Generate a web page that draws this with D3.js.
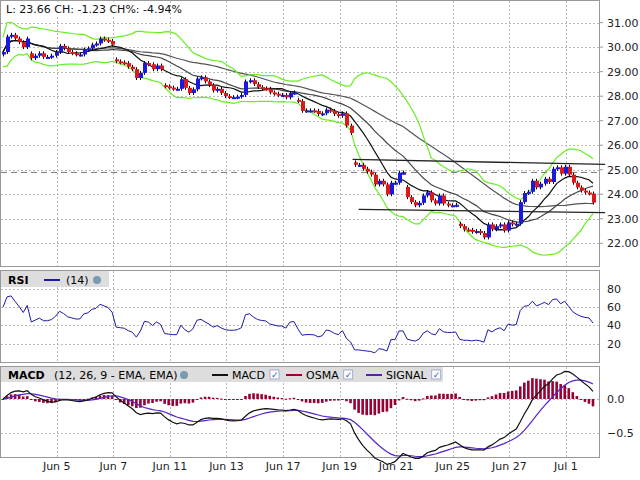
<!DOCTYPE html>
<html><head><meta charset="utf-8">
<script src="https://cdn.jsdelivr.net/npm/d3@7"></script>
<style>body{margin:0;background:#fff;font-family:"DejaVu Sans",Verdana,sans-serif;}</style>
</head><body><div id="vis"></div>
<script>
// closes per hourly bar
var closes = [29.8,30.43,30.5,30.35,30.2,30.0,30.35,29.55,29.65,29.75,29.6,29.6,29.65,29.8,30.05,29.95,29.8,29.75,29.7,29.7,29.9,29.95,30.1,30.15,30.35,30.3,30.25,30.1,
  29.42,29.38,29.35,29.2,29.1,28.74,28.95,29.35,29.3,29.1,29.25,29.1,
  28.4,28.35,28.3,28.3,28.69,28.34,28.13,28.28,28.72,28.77,28.6,28.45,28.23,28.3,28.13,28.0,27.96,27.96,27.98,28.05,28.6,28.65,28.49,28.37,28.32,28.3,28.15,28.1,28.05,
  28.05,27.95,28.13,28.15,
  27.8,27.4,27.42,27.42,27.4,27.27,27.3,27.45,27.4,27.27,27.2,27.3,26.8,26.5,
  25.2,25.2,25.04,24.92,24.8,24.4,24.55,24.4,24.0,24.47,24.47,24.88,24.88,
  23.88,23.68,23.55,23.65,23.95,24.08,23.75,23.62,23.95,23.62,23.55,23.55,23.57,
  22.7,22.56,22.55,22.47,22.5,22.42,22.24,22.77,22.57,22.7,22.77,22.52,22.85,22.77,22.8,23.68,24.05,24.1,24.55,24.28,24.43,24.63,24.5,25.04,25.1,24.84,25.12,24.8,24.47,24.28,24.15,24.07,24.03,23.66];
// opens of bars that start a new session (gap), by bar index
var sessionOpens = {0: 29.7, 7: 29.75, 28: 29.5, 40: 28.45, 73: 27.85, 87: 25.3, 100: 24.3, 113: 22.8};
var wick = 0.08;
var priceTicks = [22,23,24,25,26,27,28,29,30,31];
var rsiTicks = [20,40,60,80];
var macdTicks = [0, -0.5];
var dateLabels = ["Jun 5","Jun 7","Jun 11","Jun 13","Jun 17","Jun 19","Jun 21","Jun 25","Jun 27","Jul 1"];
var dateBars = [13.3,27.3,41.3,55.3,69.3,83.3,97.3,111.3,125.3,139.3];
var prevClose = 24.89;
var resistance = [[86.5, 25.42], [149, 25.22]];
var support = [[88, 23.38], [149, 23.25]];

var W = 640, H = 480, plotR = 599;
var svg = d3.select("#vis").append("svg").attr("width", W).attr("height", H);

var opens = closes.map(function(c, i) { return sessionOpens[i] !== undefined ? sessionOpens[i] : closes[i-1]; });

var x = d3.scaleLinear().domain([0, closes.length - 1]).range([3, 593]);
var yP = d3.scaleLinear().domain([22, 31]).range([243.3, 22.6]);
var yR = d3.scaleLinear().domain([0, 100]).range([362, 270.5]);
var yM = d3.scaleLinear().domain([-0.5, 0]).range([433, 399]);

// indicators
function sma(n) { return closes.map(function(c, i) { return d3.mean(closes.slice(Math.max(0, i-n+1), i+1)); }); }
function ema(arr, n) { var k = 2/(n+1), out = []; arr.forEach(function(v, i) { out.push(i == 0 ? v : v*k + out[i-1]*(1-k)); }); return out; }
var mid = sma(20);
var sd = closes.map(function(c, i) { var s = closes.slice(Math.max(0, i-19), i+1); return s.length > 1 ? d3.deviation(s) : 0.3; });
var upper = mid.map(function(m, i) { return m + 2*sd[i]; });
var lower = mid.map(function(m, i) { return m - 2*sd[i]; });
var ma10 = sma(10), ma40 = sma(40);
var rsi = [], ag = 0, al = 0;
closes.forEach(function(c, i) {
  if (i == 0) { ag = 0.05; al = 0.04; rsi.push(60); return; }
  var d = c - closes[i-1];
  ag = (ag*13 + Math.max(d, 0))/14; al = (al*13 + Math.max(-d, 0))/14;
  rsi.push(100 - 100/(1 + ag/al));
});
var e12 = ema(closes, 12), e26 = ema(closes, 26);
var macd = e12.map(function(v, i) { return v - e26[i]; });
var signal = ema(macd, 9);
var osma = macd.map(function(v, i) { return v - signal[i]; });

function panel(top, bottom) {
  svg.append("rect").attr("x", 0.5).attr("y", top + 0.5).attr("width", plotR).attr("height", bottom - top)
    .attr("fill", "#fff").attr("stroke", "#999");
}
function hgrid(vals, scale) {
  svg.append("g").selectAll("line").data(vals).enter().append("line")
    .attr("x1", 1).attr("x2", plotR).attr("y1", function(d) { return Math.round(scale(d)) + 0.5; })
    .attr("y2", function(d) { return Math.round(scale(d)) + 0.5; })
    .attr("stroke", "#bbb").attr("stroke-dasharray", "2,2");
}
function vgrid(top, bottom) {
  svg.append("g").selectAll("line").data(dateBars).enter().append("line")
    .attr("x1", function(d) { return Math.round(x(d)) + 0.5; }).attr("x2", function(d) { return Math.round(x(d)) + 0.5; })
    .attr("y1", top).attr("y2", bottom).attr("stroke", "#bbb").attr("stroke-dasharray", "2,2");
}
function rlabels(vals, scale, fmt) {
  svg.append("g").selectAll("text").data(vals).enter().append("text")
    .attr("x", 607).attr("y", function(d) { return scale(d) + 4; })
    .attr("font-size", 11).attr("fill", "#222").text(fmt);
}

// price panel
panel(0, 266);
hgrid(priceTicks, yP); vgrid(1, 266);
rlabels(priceTicks, yP, d3.format(".2f"));
svg.selectAll(".tickm").data(priceTicks).enter().append("line")
  .attr("x1", plotR).attr("x2", plotR + 4).attr("y1", function(d) { return yP(d); }).attr("y2", function(d) { return yP(d); }).attr("stroke", "#999");

var line = function(arr, sc) { return d3.line().x(function(d, i) { return x(i); }).y(function(d) { return sc(d); })(arr); };
svg.append("path").attr("d", line(ma40, yP)).attr("fill", "none").attr("stroke", "#555").attr("stroke-width", 1.2);
svg.append("path").attr("d", line(mid, yP)).attr("fill", "none").attr("stroke", "#444").attr("stroke-width", 1.2);
svg.append("path").attr("d", line(ma10, yP)).attr("fill", "none").attr("stroke", "#111").attr("stroke-width", 1.2);
svg.append("path").attr("d", line(upper, yP)).attr("fill", "none").attr("stroke", "#66ee22").attr("stroke-width", 1.2);
svg.append("path").attr("d", line(lower, yP)).attr("fill", "none").attr("stroke", "#66ee22").attr("stroke-width", 1.2);

svg.append("line").attr("x1", 1).attr("x2", plotR).attr("y1", yP(prevClose)).attr("y2", yP(prevClose))
  .attr("stroke", "#777").attr("stroke-dasharray", "6,4");
[resistance, support].forEach(function(t) {
  svg.append("line").attr("x1", x(t[0][0])).attr("y1", yP(t[0][1])).attr("x2", x(t[1][0])).attr("y2", yP(t[1][1]))
    .attr("stroke", "#222").attr("stroke-width", 1.3);
});

var candle = svg.append("g").selectAll("g").data(closes).enter().append("g");
candle.append("line")
  .attr("x1", function(d, i) { return Math.round(x(i)) + 0.5; }).attr("x2", function(d, i) { return Math.round(x(i)) + 0.5; })
  .attr("y1", function(d, i) { return yP(Math.max(d, opens[i]) + wick); })
  .attr("y2", function(d, i) { return yP(Math.min(d, opens[i]) - wick); })
  .attr("stroke", "#000");
candle.append("rect")
  .attr("x", function(d, i) { return Math.round(x(i)) - 1; }).attr("width", 4)
  .attr("y", function(d, i) { return yP(Math.max(d, opens[i])); })
  .attr("height", function(d, i) { return Math.max(2, yP(Math.min(d, opens[i])) - yP(Math.max(d, opens[i]))); })
  .attr("fill", function(d, i) { return d >= opens[i] ? "#1a1add" : "#dd1a1a"; });

svg.append("rect").attr("x", 2).attr("y", 2).attr("width", 150).attr("height", 14).attr("fill", "#fff");
svg.append("text").attr("x", 6).attr("y", 13).attr("font-size", 11).attr("fill", "#111")
  .text("L: 23.66 CH: -1.23 CH%: -4.94%");

// RSI panel
panel(270, 362);
hgrid(rsiTicks, yR); vgrid(271, 362);
rlabels(rsiTicks, yR, function(d) { return d; });
svg.append("path").attr("d", line(rsi, yR)).attr("fill", "none").attr("stroke", "#1a1aa8").attr("stroke-width", 1);
svg.append("rect").attr("x", 1).attr("y", 271).attr("width", 108).attr("height", 16).attr("fill", "#ddd");
svg.append("text").attr("x", 8).attr("y", 284).attr("font-size", 11).attr("font-weight", "bold").text("RSI");
svg.append("line").attr("x1", 44).attr("x2", 60).attr("y1", 280).attr("y2", 280).attr("stroke", "#1a1aa8").attr("stroke-width", 2);
svg.append("text").attr("x", 66).attr("y", 284).attr("font-size", 11).text("(14)");
svg.append("circle").attr("cx", 97).attr("cy", 280).attr("r", 4).attr("fill", "#7a9ab0");

// MACD panel
panel(366, 457);
hgrid(macdTicks, yM); vgrid(367, 457);
rlabels(macdTicks, yM, d3.format(".1f"));
var bw = 2.6;
svg.append("g").selectAll("rect").data(osma).enter().append("rect")
  .attr("x", function(d, i) { return x(i) - bw/2; }).attr("width", bw)
  .attr("y", function(d) { return Math.min(yM(d), yM(0)); })
  .attr("height", function(d) { return Math.max(1, Math.abs(yM(d) - yM(0))); })
  .attr("fill", "#990033");
svg.append("path").attr("d", line(signal, yM)).attr("fill", "none").attr("stroke", "#5522cc").attr("stroke-width", 1.2);
svg.append("path").attr("d", line(macd, yM)).attr("fill", "none").attr("stroke", "#111").attr("stroke-width", 1.2);
svg.append("rect").attr("x", 1).attr("y", 367).attr("width", 442).attr("height", 15).attr("fill", "#ddd");
var leg = svg.append("g").attr("font-size", 11);
leg.append("text").attr("x", 8).attr("y", 379).attr("font-weight", "bold").text("MACD");
leg.append("text").attr("x", 54).attr("y", 379).text("(12, 26, 9 - EMA, EMA)");
leg.append("circle").attr("cx", 184).attr("cy", 375).attr("r", 4).attr("fill", "#7a9ab0");
[["MACD", "#111", 212], ["OSMA", "#990033", 286], ["SIGNAL", "#5522aa", 366]].forEach(function(s) {
  leg.append("line").attr("x1", s[2]).attr("x2", s[2] + 16).attr("y1", 375).attr("y2", 375).attr("stroke", s[1]).attr("stroke-width", 2);
  var t = leg.append("text").attr("x", s[2] + 20).attr("y", 379).text(s[0]);
  var cx = s[2] + 20 + t.node().getComputedTextLength() + 5;
  leg.append("rect").attr("x", cx).attr("y", 370).attr("width", 9).attr("height", 9).attr("fill", "#fff").attr("stroke", "#aac");
  leg.append("text").attr("x", cx + 1).attr("y", 378).attr("font-size", 9).attr("fill", "#2266dd").text("✓");
});

// date axis
svg.append("g").selectAll("text").data(dateLabels).enter().append("text")
  .attr("x", function(d, i) { return x(dateBars[i]); }).attr("y", 470)
  .attr("text-anchor", "middle").attr("font-size", 11).attr("fill", "#222").text(function(d) { return d; });
</script></body></html>
